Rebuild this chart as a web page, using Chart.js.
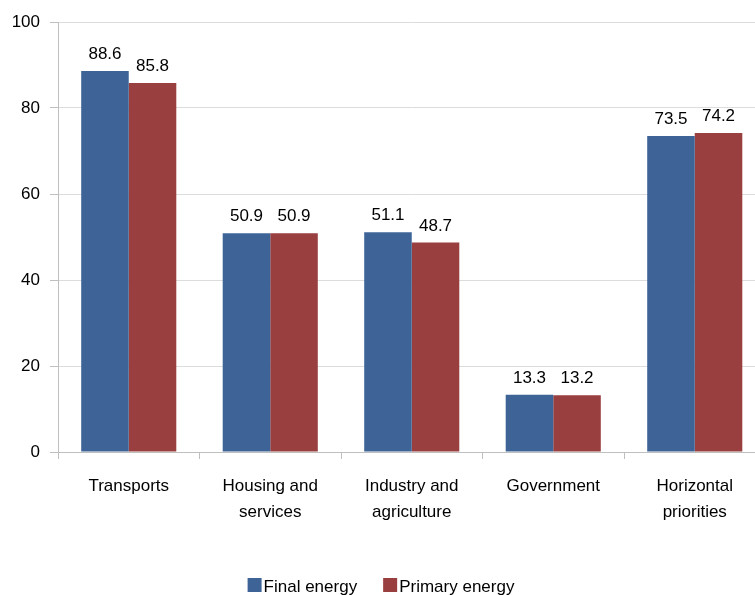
<!DOCTYPE html>
<html>
<head>
<meta charset="utf-8">
<script src="https://cdn.jsdelivr.net/npm/chart.js@4.4.1/dist/chart.umd.min.js"></script>
<style>
  html, body { margin: 0; padding: 0; background: #ffffff; overflow: hidden; }
  #wrap { width: 755px; height: 595px; overflow: hidden; position: relative; }
  canvas { display: block; }
</style>
</head>
<body>
<div id="wrap"><canvas id="c" width="775" height="595"></canvas></div>
<script>
// Energy savings by sector
const categories = [
  ['Transports'],
  ['Housing and', 'services'],
  ['Industry and', 'agriculture'],
  ['Government'],
  ['Horizontal', 'priorities']
];
const finalEnergy = [88.6, 50.9, 51.1, 13.3, 73.5];
const primaryEnergy = [85.8, 50.9, 48.7, 13.2, 74.2];
const seriesNames = ['Final energy', 'Primary energy'];
const seriesColors = ['#3E6497', '#9A3F3F'];
const yTicks = [0, 20, 40, 60, 80, 100];

const FONT = '"Liberation Sans", Arial, sans-serif';

// Value labels above each bar
const valueLabels = {
  id: 'valueLabels',
  afterDatasetsDraw(chart) {
    const ctx = chart.ctx;
    ctx.save();
    ctx.font = '17px ' + FONT;
    ctx.fillStyle = '#000000';
    ctx.textAlign = 'center';
    ctx.textBaseline = 'alphabetic';
    chart.data.datasets.forEach((ds, i) => {
      chart.getDatasetMeta(i).data.forEach((bar, j) => {
        ctx.fillText(ds.data[j].toFixed(1), bar.x, bar.y - 12);
      });
    });
    ctx.restore();
  }
};

// Legend with square swatches hugging the text
const bottomLegend = {
  id: 'bottomLegend',
  afterDraw(chart) {
    const ctx = chart.ctx;
    ctx.save();
    ctx.font = '17px ' + FONT;
    const box = 14, gapBox = 2, gapItem = 26;
    const items = chart.data.datasets.map(ds => ({
      label: ds.label, color: ds.backgroundColor, w: ctx.measureText(ds.label).width
    }));
    const total = items.reduce((s, it) => s + box + gapBox + it.w, 0) + gapItem * (items.length - 1);
    let x = 381 - total / 2;
    const top = 578;
    items.forEach(it => {
      ctx.fillStyle = it.color;
      ctx.fillRect(x, top, box, box);
      ctx.fillStyle = '#000000';
      ctx.textBaseline = 'alphabetic';
      ctx.textAlign = 'left';
      ctx.fillText(it.label, x + box + gapBox, top + box);
      x += box + gapBox + it.w + gapItem;
    });
    ctx.restore();
  }
};

new Chart(document.getElementById('c'), {
  type: 'bar',
  data: {
    labels: categories,
    datasets: [
      { label: seriesNames[0], data: finalEnergy, backgroundColor: seriesColors[0] },
      { label: seriesNames[1], data: primaryEnergy, backgroundColor: seriesColors[1] }
    ]
  },
  options: {
    responsive: false,
    animation: false,
    devicePixelRatio: 1,
    layout: { padding: { left: 0, right: 9.5, top: 22, bottom: 0 } },
    datasets: { bar: { categoryPercentage: 0.672, barPercentage: 1.0 } },
    plugins: {
      legend: { display: false },
      tooltip: { enabled: false }
    },
    scales: {
      x: {
        afterFit(scale) { scale.height = 143; },
        grid: {
          display: true,
          drawOnChartArea: false,
          drawTicks: true,
          tickLength: 7,
          tickColor: '#bfbfbf',
          offset: true
        },
        border: { display: true, color: '#bfbfbf', width: 1 },
        ticks: {
          color: '#000000',
          font: { family: FONT, size: 17, lineHeight: 1.5 },
          padding: 15,
          maxRotation: 0,
          autoSkip: false
        }
      },
      y: {
        min: 0,
        max: 100,
        afterFit(scale) { scale.width = 58; },
        afterBuildTicks(scale) { scale.ticks = yTicks.map(v => ({ value: v })); },
        grid: {
          color: '#dcdcdc',
          drawTicks: true,
          tickLength: 8,
          tickColor: '#bfbfbf'
        },
        border: { display: true, color: '#bfbfbf', width: 1 },
        ticks: {
          color: '#000000',
          font: { family: FONT, size: 17 },
          padding: 10
        }
      }
    }
  },
  plugins: [valueLabels, bottomLegend]
});
</script>
</body>
</html>
